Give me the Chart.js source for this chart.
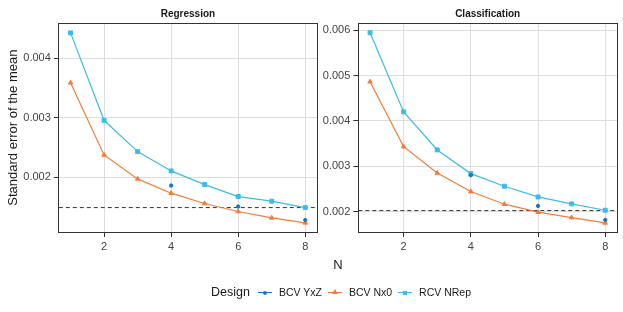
<!DOCTYPE html>
<html lang="en">
<head>
  <meta charset="UTF-8">
  <title>Standard error of the mean</title>
  <script src="https://cdn.jsdelivr.net/npm/chart.js"></script>
  <style>
    body { margin: 0; background: #fff; font-family: "Liberation Sans", Arial, sans-serif; }
    #wrap { position: relative; width: 623px; height: 312px; overflow: hidden; }
    canvas { position: absolute; top: 0; }
    #xTitle { position: absolute; left: 318px; width: 40px; top: 257px; text-align: center; font-size: 13px; color: #1a1a1a; }
    #legend { position: absolute; left: 211px; top: 285px; display: flex; align-items: center; font-size: 10.5px; color: #1a1a1a; white-space: nowrap; }
    #legend .ttl { font-size: 12.5px; margin-right: 8px; }
    .key { position: relative; width: 14px; height: 12px; margin-right: 7px; }
    .key .ln { position: absolute; left: 0; right: 0; top: 6px; height: 1px; }
    .key .mk { position: absolute; }
    .lab { margin-right: 6px; }
  </style>
</head>
<body>
<div id="wrap">
  <canvas id="regChart" width="322" height="258" style="left:0"></canvas>
  <canvas id="clsChart" width="301" height="258" style="left:322px"></canvas>
  <div id="xTitle">N</div>
  <div id="legend"></div>
</div>

<script>
  // --- data ---
  const nValues = [1, 2, 3, 4, 5, 6, 7, 8];
  const yxzN = [4, 6, 8];
  const xTicks = [2, 4, 6, 8];

  const regYxZ = [0.00186, 0.001508, 0.00128];
  const regNx0 = [0.003586, 0.002374, 0.001972, 0.001732, 0.001558, 0.001424, 0.001318, 0.001234];
  const regNRep = [0.004424, 0.002956, 0.00243, 0.002106, 0.001876, 0.001675, 0.001598, 0.00149];
  const regRef = 0.00149;
  const regYTicks = [0.002, 0.003, 0.004];

  const clsYxZ = [0.002802, 0.002125, 0.001817];
  const clsNx0 = [0.004861, 0.003432, 0.002852, 0.002441, 0.002163, 0.001987, 0.001868, 0.001751];
  const clsNRep = [0.005941, 0.004198, 0.003359, 0.002837, 0.002559, 0.002323, 0.00217, 0.00203];
  const clsRef = 0.002022;
  const clsYTicks = [0.002, 0.003, 0.004, 0.005, 0.006];

  const designs = ["BCV YxZ", "BCV Nx0", "RCV NRep"];
  const colors = ["#1b76c0", "#f47c3a", "#3bbceb"];

  const xMin = 0.65, xMax = 8.35;
  const FONT = '"Liberation Sans", Arial, sans-serif';
  const DARK = '#333333';

  function pts(xs, ys) { return xs.map((x, i) => ({ x: x, y: ys[i] })); }

  function makePanel(id, title, yxz, nx0, nrep, ref, yTicks, yMin, yMax, yWidth, padRight, showYTitle) {
    const ctx = document.getElementById(id).getContext('2d');
    return new Chart(ctx, {
      type: 'line',
      data: {
        datasets: [
          {
            label: 'ref', data: [{ x: xMin, y: ref }, { x: xMax, y: ref }],
            borderColor: DARK, borderWidth: 1, borderDash: [4, 3], pointRadius: 0, order: 4
          },
          {
            label: designs[1], data: pts(nValues, nx0),
            borderColor: colors[1], backgroundColor: colors[1], borderWidth: 1.2,
            pointStyle: 'triangle', pointRadius: 2.6, pointBorderWidth: 1, order: 3
          },
          {
            label: designs[2], data: pts(nValues, nrep),
            borderColor: colors[2], backgroundColor: colors[2], borderWidth: 1.2,
            pointStyle: 'rect', pointRadius: 2.8, pointBorderWidth: 1, order: 2
          },
          {
            label: designs[0], data: pts(yxzN, yxz), showLine: false,
            borderColor: colors[0], backgroundColor: colors[0],
            pointStyle: 'circle', pointRadius: 1.7, pointBorderWidth: 1, order: 1
          }
        ]
      },
      options: {
        responsive: false,
        animation: false,
        layout: { padding: { left: 0, right: padRight, top: 0, bottom: 0 } },
        plugins: { legend: { display: false }, tooltip: { enabled: false } },
        scales: {
          x: {
            type: 'linear', position: 'bottom', min: xMin, max: xMax,
            afterBuildTicks: s => { s.ticks = xTicks.map(v => ({ value: v })); },
            afterFit: s => { s.height = 26; },
            grid: { color: '#dedede', lineWidth: 1, tickColor: DARK, tickLength: 5 },
            border: { color: DARK, width: 1 },
            ticks: { padding: 3, color: '#444', font: { family: FONT, size: 11 }, maxRotation: 0, callback: v => String(v) }
          },
          y: {
            type: 'linear', position: 'left', min: yMin, max: yMax,
            afterBuildTicks: s => { s.ticks = yTicks.map(v => ({ value: v })); },
            afterFit: s => { s.width = yWidth; },
            grid: { color: '#dedede', lineWidth: 1, tickColor: DARK, tickLength: 5 },
            border: { color: DARK, width: 1 },
            ticks: { padding: 3, color: '#444', font: { family: FONT, size: 11 }, callback: v => v.toFixed(3) },
            title: { display: showYTitle, text: 'Standard error of the mean', color: '#1a1a1a',
                     font: { family: FONT, size: 13 }, padding: { top: 6, bottom: 0 } }
          },
          top: {
            type: 'linear', position: 'top',
            afterFit: s => { s.height = 23.3; },
            grid: { display: false, drawTicks: false },
            border: { color: DARK, width: 1 },
            ticks: { display: false },
            title: { display: true, text: title, color: '#1a1a1a',
                     font: { family: FONT, size: 10, weight: 'bold' }, padding: { top: 8, bottom: 3 } }
          },
          right: {
            type: 'linear', position: 'right',
            afterFit: s => { s.width = 0; },
            grid: { display: false, drawTicks: false },
            border: { color: DARK, width: 1 },
            ticks: { display: false }
          }
        }
      }
    });
  }

  makePanel('regChart', 'Regression', regYxZ, regNx0, regNRep, regRef, regYTicks, 0.00108, 0.004585, 58.8, 3.7, true);
  makePanel('clsChart', 'Classification', clsYxZ, clsNx0, clsNRep, clsRef, clsYTicks, 0.00155, 0.00615, 36.3, 6, false);

  // legend (shared by both panels)
  const legend = document.getElementById('legend');
  legend.innerHTML = '<span class="ttl">Design</span>';
  const markers = [
    'left:5px;top:4.5px;width:4px;height:4px;border-radius:50%;',
    'left:4px;top:3px;width:0;height:0;border-left:3px solid transparent;border-right:3px solid transparent;border-bottom:5px solid;',
    'left:5px;top:4.5px;width:4px;height:4px;'
  ];
  designs.forEach((d, i) => {
    const c = colors[i];
    const mk = i === 1 ? markers[i].replace('border-bottom:5px solid;', 'border-bottom:5px solid ' + c + ';')
                       : markers[i] + 'background:' + c + ';';
    legend.innerHTML += '<span class="key"><span class="ln" style="background:' + c + '"></span>' +
      '<span class="mk" style="' + mk + '"></span></span><span class="lab">' + d + '</span>';
  });
</script>
</body>
</html>
